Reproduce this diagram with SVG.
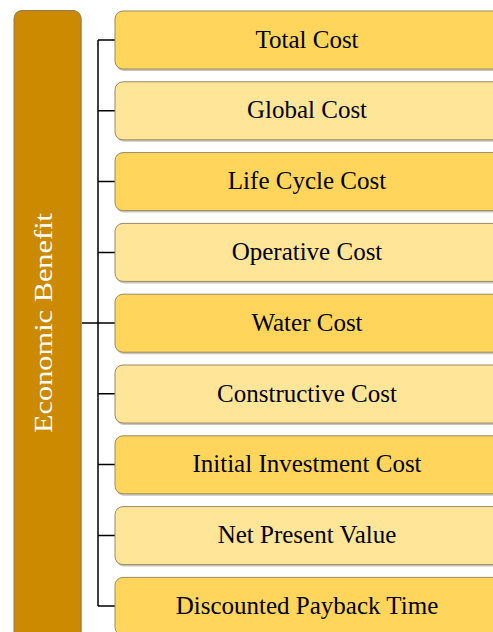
<svg xmlns="http://www.w3.org/2000/svg" width="493" height="632" viewBox="0 0 493 632">
<defs>
<style>
.bg{fill:#ffffff}
.main{fill:#CC8A00;stroke:#8E7A55;stroke-width:1}
.dark{fill:#FFD55B;stroke:#9C8A5E;stroke-width:1}
.light{fill:#FFE598;stroke:#9C8A5E;stroke-width:1}
.sh{fill:#C9C6BE}
.lbl{font-family:"Liberation Serif","Times New Roman",serif;font-size:25px;fill:#000;text-anchor:middle}
.mlbl{font-family:"Liberation Serif","Times New Roman",serif;font-size:26px;fill:#fff;text-anchor:middle}
.conn{fill:none;stroke:#000;stroke-width:1.5}
</style>
</defs>
<rect class="bg" x="0" y="0" width="493" height="632"/>
<g id="connectors">
<path class="conn" d="M81,323 H98 M98,40 V606 M98,40 H115 M98,110.8 H115 M98,181.6 H115 M98,252.4 H115 M98,323 H115 M98,393.8 H115 M98,464.6 H115 M98,535.4 H115 M98,606 H115"/>
</g>
<g id="economic-benefit">
<rect class="sh" x="15" y="12" width="67" height="640" rx="8"/>
<rect class="main" x="14" y="10.5" width="67" height="640" rx="8"/>
<text class="mlbl" transform="translate(52,323) rotate(-90)" textLength="220" lengthAdjust="spacingAndGlyphs">Economic Benefit</text>
</g>
<g id="total-cost">
<rect class="sh" x="116" y="13" width="400" height="58" rx="8"/>
<rect class="dark" x="115" y="11" width="400" height="58" rx="8"/>
<text class="lbl" x="307" y="47.5">Total Cost</text>
</g>
<g id="global-cost">
<rect class="sh" x="116" y="83.8" width="400" height="58" rx="8"/>
<rect class="light" x="115" y="81.8" width="400" height="58" rx="8"/>
<text class="lbl" x="307" y="118.3">Global Cost</text>
</g>
<g id="life-cycle-cost">
<rect class="sh" x="116" y="154.6" width="400" height="58" rx="8"/>
<rect class="dark" x="115" y="152.6" width="400" height="58" rx="8"/>
<text class="lbl" x="307" y="189.1">Life Cycle Cost</text>
</g>
<g id="operative-cost">
<rect class="sh" x="116" y="225.4" width="400" height="58" rx="8"/>
<rect class="light" x="115" y="223.4" width="400" height="58" rx="8"/>
<text class="lbl" x="307" y="259.9">Operative Cost</text>
</g>
<g id="water-cost">
<rect class="sh" x="116" y="296.2" width="400" height="58" rx="8"/>
<rect class="dark" x="115" y="294.2" width="400" height="58" rx="8"/>
<text class="lbl" x="307" y="330.7">Water Cost</text>
</g>
<g id="constructive-cost">
<rect class="sh" x="116" y="367" width="400" height="58" rx="8"/>
<rect class="light" x="115" y="365" width="400" height="58" rx="8"/>
<text class="lbl" x="307" y="401.5">Constructive Cost</text>
</g>
<g id="initial-investment-cost">
<rect class="sh" x="116" y="437.8" width="400" height="58" rx="8"/>
<rect class="dark" x="115" y="435.8" width="400" height="58" rx="8"/>
<text class="lbl" x="307" y="472.3">Initial Investment Cost</text>
</g>
<g id="net-present-value">
<rect class="sh" x="116" y="508.6" width="400" height="58" rx="8"/>
<rect class="light" x="115" y="506.6" width="400" height="58" rx="8"/>
<text class="lbl" x="307" y="543.1">Net Present Value</text>
</g>
<g id="discounted-payback-time">
<rect class="sh" x="116" y="579.4" width="400" height="58" rx="8"/>
<rect class="dark" x="115" y="577.4" width="400" height="58" rx="8"/>
<text class="lbl" x="307" y="613.9">Discounted Payback Time</text>
</g>
</svg>
